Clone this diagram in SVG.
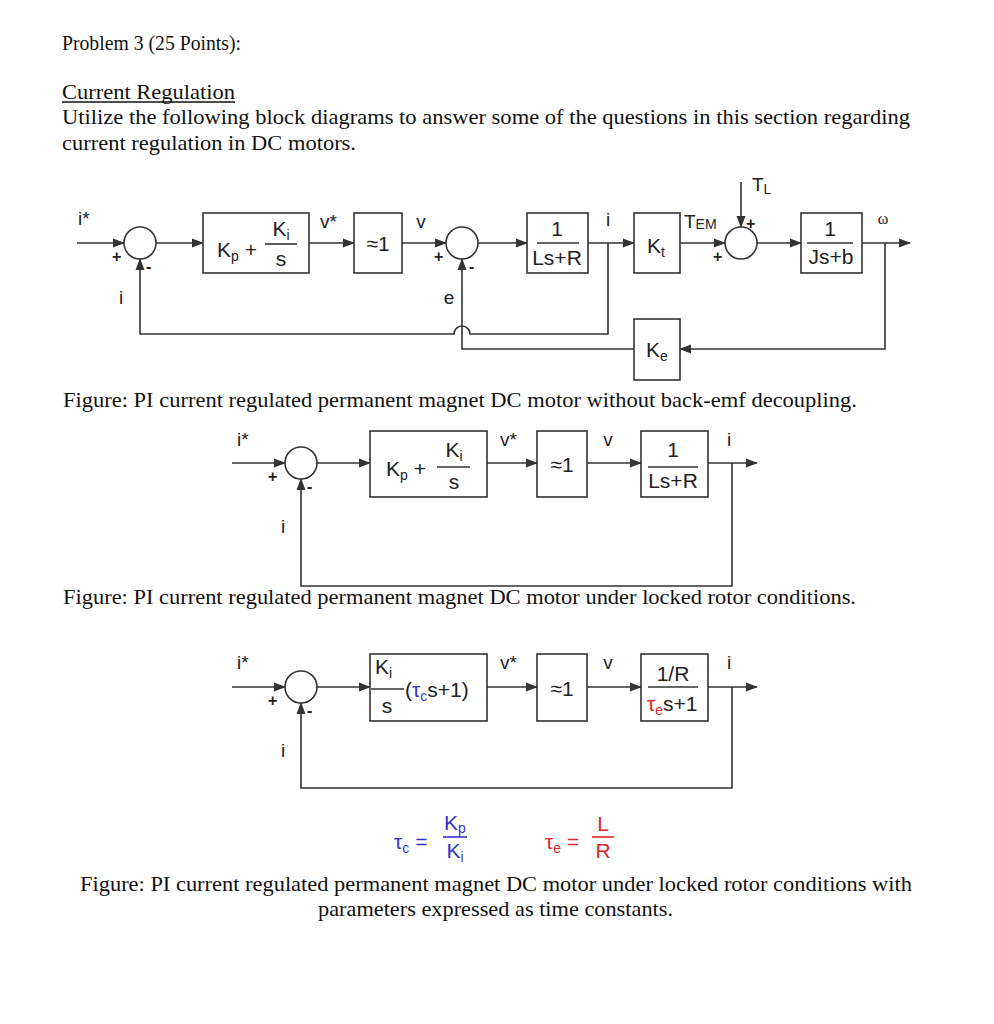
<svg xmlns="http://www.w3.org/2000/svg" width="994" height="1024" viewBox="0 0 994 1024">
<defs>
<marker id="ar" markerWidth="12" markerHeight="10" refX="11" refY="5" orient="auto" markerUnits="userSpaceOnUse">
<path d="M0,0.5 L12,5 L0,9.5 Z" fill="#333"/>
</marker>
<style>
.t{font-family:"Liberation Serif","Times New Roman",serif;font-size:21px;fill:#111}
.d{font-family:"Liberation Sans",Arial,sans-serif;font-size:21px;fill:#222}
.l{font-family:"Liberation Sans",Arial,sans-serif;font-size:19px;fill:#222}
.sg{font-family:"Liberation Sans",Arial,sans-serif;font-size:16px;font-weight:bold;fill:#222}
.sub{font-size:14px}
.b{fill:#fff;stroke:#333;stroke-width:1.6}
.c{fill:none;stroke:#333;stroke-width:1.6}
.w{fill:none;stroke:#333;stroke-width:1.6}
.a{fill:none;stroke:#333;stroke-width:1.6;marker-end:url(#ar)}
.bl{fill:#3535c8}
.rd{fill:#e02828}
</style>
</defs>
<rect width="994" height="1024" fill="#fff"/>

<g id="text-header">
<text class="t" x="62" y="50" textLength="179" lengthAdjust="spacingAndGlyphs">Problem 3 (25 Points):</text>
<text class="t" x="62" y="99" textLength="173" lengthAdjust="spacingAndGlyphs">Current Regulation</text>
<line x1="62" y1="102" x2="235" y2="102" stroke="#111" stroke-width="1.3"/>
<text class="t" x="62" y="124" textLength="848" lengthAdjust="spacingAndGlyphs">Utilize the following block diagrams to answer some of the questions in this section regarding</text>
<text class="t" x="62" y="150" textLength="294" lengthAdjust="spacingAndGlyphs">current regulation in DC motors.</text>
</g>

<!-- ===== Diagram 1 ===== -->
<g id="connectors-1">
<line class="a" x1="77" y1="243" x2="124" y2="243"/>
<line class="a" x1="156" y1="243" x2="203" y2="243"/>
<line class="a" x1="309" y1="243" x2="354" y2="243"/>
<line class="a" x1="402" y1="243" x2="446" y2="243"/>
<line class="a" x1="478" y1="243" x2="527" y2="243"/>
<line class="a" x1="588" y1="243" x2="634" y2="243"/>
<line class="a" x1="680" y1="243" x2="725" y2="243"/>
<line class="a" x1="757" y1="243" x2="801" y2="243"/>
<line class="a" x1="862" y1="243" x2="910" y2="243"/>
<line class="a" x1="741" y1="182" x2="741" y2="227"/>
<path class="a" d="M608,243 V334 H470 A8,8 0 0 0 454,334 H140 V259"/>
<path class="a" d="M885,243 V349 H680"/>
<path class="a" d="M634,349 H462 V259"/>
</g>

<g id="sum1"><circle class="c" cx="140" cy="243" r="16"/></g>
<g id="pi1"><rect class="b" x="203" y="213" width="106" height="60"/>
<text class="d" x="217" y="257">K<tspan class="sub" dy="4">p</tspan><tspan dy="-4"> +</tspan></text>
<text class="d" x="281" y="236" text-anchor="middle">K<tspan class="sub" dy="4">i</tspan></text>
<line class="w" x1="265" y1="244" x2="297" y2="244"/>
<text class="d" x="281" y="266" text-anchor="middle">s</text>
</g>
<g id="inv1"><rect class="b" x="354" y="213" width="48" height="60"/>
<text class="d" x="378" y="251" text-anchor="middle">≈1</text></g>
<g id="sum2"><circle class="c" cx="462" cy="243" r="16"/></g>
<g id="plant1"><rect class="b" x="527" y="213" width="61" height="60"/>
<text class="d" x="557" y="236" text-anchor="middle">1</text>
<line class="w" x1="537" y1="243" x2="579" y2="243"/>
<text class="d" x="557" y="265" text-anchor="middle">Ls+R</text></g>
<g id="kt"><rect class="b" x="634" y="213" width="46" height="60"/>
<text class="d" x="647" y="253">K<tspan class="sub" dy="4">t</tspan></text></g>
<g id="sum3"><circle class="c" cx="741" cy="243" r="16"/></g>
<g id="mech"><rect class="b" x="801" y="213" width="61" height="60"/>
<text class="d" x="830" y="236" text-anchor="middle">1</text>
<line class="w" x1="807" y1="243" x2="853" y2="243"/>
<text class="d" x="831" y="264" text-anchor="middle">Js+b</text></g>
<g id="ke"><rect class="b" x="634" y="319" width="46" height="61"/>
<text class="d" x="646" y="357">K<tspan class="sub" dy="4">e</tspan></text></g>

<g id="labels-1">
<text class="l" x="78" y="225">i*</text>
<text class="sg" x="112" y="262">+</text>
<text class="sg" x="146" y="272">-</text>
<text class="l" x="320" y="228">v*</text>
<text class="l" x="421" y="228" text-anchor="middle">v</text>
<text class="sg" x="434" y="262">+</text>
<text class="sg" x="469" y="272">-</text>
<text class="l" x="608" y="226" text-anchor="middle">i</text>
<text class="l" x="684" y="228">T<tspan class="sub" dy="1">EM</tspan></text>
<text class="l" x="752" y="191">T<tspan class="sub" dy="3">L</tspan></text>
<text class="sg" x="746" y="229">+</text>
<text class="sg" x="713" y="262">+</text>
<text x="883" y="224" text-anchor="middle" font-family="Liberation Serif, serif" font-size="16" fill="#222">ω</text>
<text class="l" x="121" y="304" text-anchor="middle">i</text>
<text class="l" x="449" y="304" text-anchor="middle">e</text>
</g>

<text class="t" x="63" y="407" textLength="794" lengthAdjust="spacingAndGlyphs">Figure: PI current regulated permanent magnet DC motor without back-emf decoupling.</text>

<!-- ===== Diagram 2 ===== -->
<g id="connectors-2">
<line class="a" x1="232" y1="463" x2="285" y2="463"/>
<line class="a" x1="317" y1="463" x2="370" y2="463"/>
<line class="a" x1="487" y1="463" x2="537" y2="463"/>
<line class="a" x1="587" y1="463" x2="641" y2="463"/>
<line class="a" x1="708" y1="463" x2="757" y2="463"/>
<path class="a" d="M732,463 V586 H301 V479"/>
</g>
<g id="sum4"><circle class="c" cx="301" cy="463" r="16"/></g>
<g id="pi2"><rect class="b" x="370" y="431" width="117" height="66"/>
<text class="d" x="386" y="476">K<tspan class="sub" dy="4">p</tspan><tspan dy="-4"> +</tspan></text>
<text class="d" x="454" y="457" text-anchor="middle">K<tspan class="sub" dy="4">i</tspan></text>
<line class="w" x1="437" y1="467" x2="470" y2="467"/>
<text class="d" x="454" y="489" text-anchor="middle">s</text></g>
<g id="inv2"><rect class="b" x="537" y="431" width="50" height="66"/>
<text class="d" x="562" y="472" text-anchor="middle">≈1</text></g>
<g id="plant2"><rect class="b" x="641" y="431" width="67" height="66"/>
<text class="d" x="673" y="457" text-anchor="middle">1</text>
<line class="w" x1="648" y1="467" x2="698" y2="467"/>
<text class="d" x="673" y="488" text-anchor="middle">Ls+R</text></g>
<g id="labels-2">
<text class="l" x="237" y="446">i*</text>
<text class="sg" x="268" y="482">+</text>
<text class="sg" x="307" y="492">-</text>
<text class="l" x="500" y="446">v*</text>
<text class="l" x="608" y="446" text-anchor="middle">v</text>
<text class="l" x="729" y="446" text-anchor="middle">i</text>
<text class="l" x="283" y="533" text-anchor="middle">i</text>
</g>

<text class="t" x="63" y="604" textLength="793" lengthAdjust="spacingAndGlyphs">Figure: PI current regulated permanent magnet DC motor under locked rotor conditions.</text>

<!-- ===== Diagram 3 ===== -->
<g id="connectors-3">
<line class="a" x1="232" y1="687" x2="285" y2="687"/>
<line class="a" x1="317" y1="687" x2="370" y2="687"/>
<line class="a" x1="487" y1="687" x2="537" y2="687"/>
<line class="a" x1="587" y1="687" x2="641" y2="687"/>
<line class="a" x1="708" y1="687" x2="757" y2="687"/>
<path class="a" d="M732,687 V788 H301 V703"/>
</g>
<g id="sum5"><circle class="c" cx="301" cy="687" r="16"/></g>
<g id="pi3"><rect class="b" x="370" y="654" width="117" height="67"/>
<text class="d" x="375" y="674">K<tspan class="sub" dy="4">i</tspan></text>
<line class="w" x1="371" y1="689" x2="404" y2="689"/>
<text class="d" x="387" y="713" text-anchor="middle">s</text>
<text class="d" x="405" y="697">(<tspan class="bl">τ<tspan class="sub" dy="4">c</tspan></tspan><tspan dy="-4">s+1)</tspan></text></g>
<g id="inv3"><rect class="b" x="537" y="654" width="50" height="67"/>
<text class="d" x="562" y="696" text-anchor="middle">≈1</text></g>
<g id="plant3"><rect class="b" x="641" y="654" width="67" height="67"/>
<text class="d" x="673" y="681" text-anchor="middle">1/R</text>
<line class="w" x1="648" y1="687" x2="698" y2="687"/>
<text class="d" x="647" y="711"><tspan class="rd">τ<tspan class="sub" dy="4">e</tspan></tspan><tspan dy="-4">s+1</tspan></text></g>
<g id="labels-3">
<text class="l" x="237" y="669">i*</text>
<text class="sg" x="268" y="706">+</text>
<text class="sg" x="307" y="716">-</text>
<text class="l" x="500" y="669">v*</text>
<text class="l" x="608" y="669" text-anchor="middle">v</text>
<text class="l" x="729" y="669" text-anchor="middle">i</text>
<text class="l" x="283" y="757" text-anchor="middle">i</text>
</g>

<g id="formulas">
<text class="d bl" x="394" y="849">τ<tspan class="sub" dy="4">c</tspan><tspan dy="-4"> =</tspan></text>
<text class="d bl" x="455" y="830" text-anchor="middle">K<tspan class="sub" dy="3">p</tspan></text>
<line x1="443" y1="837" x2="467" y2="837" stroke="#3535c8" stroke-width="1.6"/>
<text class="d bl" x="455" y="858" text-anchor="middle">K<tspan class="sub" dy="4">i</tspan></text>
<text class="d rd" x="545" y="849">τ<tspan class="sub" dy="4">e</tspan><tspan dy="-4"> =</tspan></text>
<text class="d rd" x="603" y="831" text-anchor="middle">L</text>
<line x1="592" y1="837" x2="614" y2="837" stroke="#e02828" stroke-width="1.6"/>
<text class="d rd" x="603" y="858" text-anchor="middle">R</text>
</g>

<text class="t" x="80" y="891" textLength="832" lengthAdjust="spacingAndGlyphs">Figure: PI current regulated permanent magnet DC motor under locked rotor conditions with</text>
<text class="t" x="318" y="916" textLength="355" lengthAdjust="spacingAndGlyphs">parameters expressed as time constants.</text>
</svg>
